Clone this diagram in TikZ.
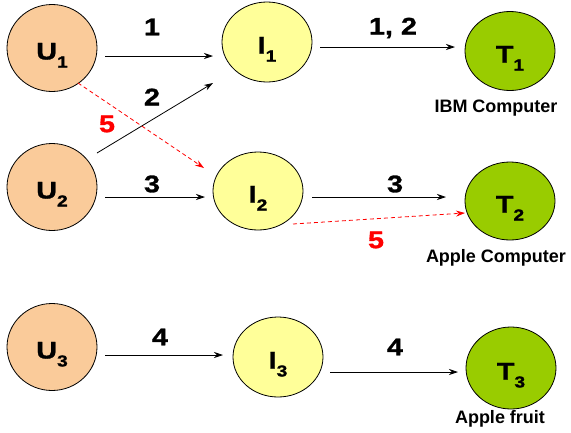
\documentclass[tikz,border=0pt]{standalone}
\usepackage{fontspec}
\setmainfont{Liberation Sans}
\newfontfamily\heavyfont[FakeStretch=1.2,FakeBold=1.2]{Liberation Sans}
\usetikzlibrary{arrows.meta,calc,shapes.geometric}
\definecolor{upeach}{HTML}{FACB9A}
\definecolor{iyellow}{HTML}{FFFF99}
\definecolor{tgreen}{HTML}{99CC00}
\definecolor{dred}{HTML}{FF0000}
\newcommand{\nlab}[2]{#1\raisebox{-8pt}[0pt][0pt]{\fontsize{16}{16}\selectfont #2}}
\begin{document}
\begin{tikzpicture}[x=1pt,y=-1pt,
  base/.style={ellipse, draw=black, line width=0.8pt, inner sep=0pt, minimum width=90pt, text height=23pt, text depth=0pt, font=\fontsize{24}{26}\heavyfont\bfseries},
  unode/.style={base, fill=upeach, minimum height=87pt},
  inode/.style={base, fill=iyellow, minimum height=80pt},
  tnode/.style={base, fill=tgreen, minimum height=79pt},
  arr/.style={line width=0.8pt, -{Stealth[length=9pt,width=6pt]}},
  redarr/.style={arr, draw=dred, dash pattern=on 4pt off 3pt},
  elab/.style={font=\fontsize{24}{26}\heavyfont\bfseries},
  rlab/.style={elab, text=dred},
  caption/.style={font=\fontsize{18}{20}\selectfont\bfseries}]
\useasboundingbox (0,0) rectangle (571,432);
\node[unode] (U1) at (52,48) {\nlab{U}{1}};
\node[unode] (U2) at (52,187) {\nlab{U}{2}};
\node[unode] (U3) at (52,347) {\nlab{U}{3}};
\node[inode] (I1) at (267,42) {\nlab{I}{1}};
\node[inode, minimum height=78pt] (I2) at (258,191) {\nlab{I}{2}};
\node[inode] (I3) at (278,357) {\nlab{I}{3}};
\node[tnode] (T1) at (510,51) {\nlab{T}{1}};
\node[tnode, minimum height=78pt] (T2) at (510,201) {\nlab{T}{2}};
\node[tnode, minimum height=82pt] (T3) at (511,368) {\nlab{T}{3}};
\draw[arr] ($(U1)+(53,8)$) -- ($(I1)+(-54,14)$);
\draw[arr] ($(U2)+(45,-34)$) -- ($(I1)+(-54,41)$);
\draw[arr] ($(U2)+(53,10)$) -- ($(I2)+(-53,6)$);
\draw[redarr] ($(U1)+(26,35)$) -- ($(I2)+(-54,-23)$);
\draw[arr] ($(I1)+(53,5)$) -- ($(T1)+(-55,-4)$);
\draw[arr] ($(I2)+(54,6)$) -- ($(T2)+(-64,-4)$);
\draw[redarr] ($(I2)+(35,33)$) -- ($(T2)+(-45,12)$);
\draw[arr] ($(U3)+(53,8)$) -- ($(I3)+(-55,-2)$);
\draw[arr] ($(I3)+(52,15)$) -- ($(T3)+(-53,4)$);
\node[elab] (l1) at (152,27) {1};
\node[elab] (l2) at (152,97) {2};
\node[elab] (l3) at (152,184) {3};
\node[rlab] (l5a) at (107,124) {5};
\node[elab] (l12) at (393,28) {1, 2};
\node[elab] (l3b) at (395,184) {3};
\node[rlab] (l5b) at (376,240) {5};
\node[elab] (l4a) at (160,337) {4};
\node[elab] (l4b) at (395,347) {4};
\node[caption] (c1) at (496,108) {IBM Computer};
\node[caption] (c2) at (496,258) {Apple Computer};
\node[caption] (c3) at (500,419) {Apple fruit};
\end{tikzpicture}
\end{document}
